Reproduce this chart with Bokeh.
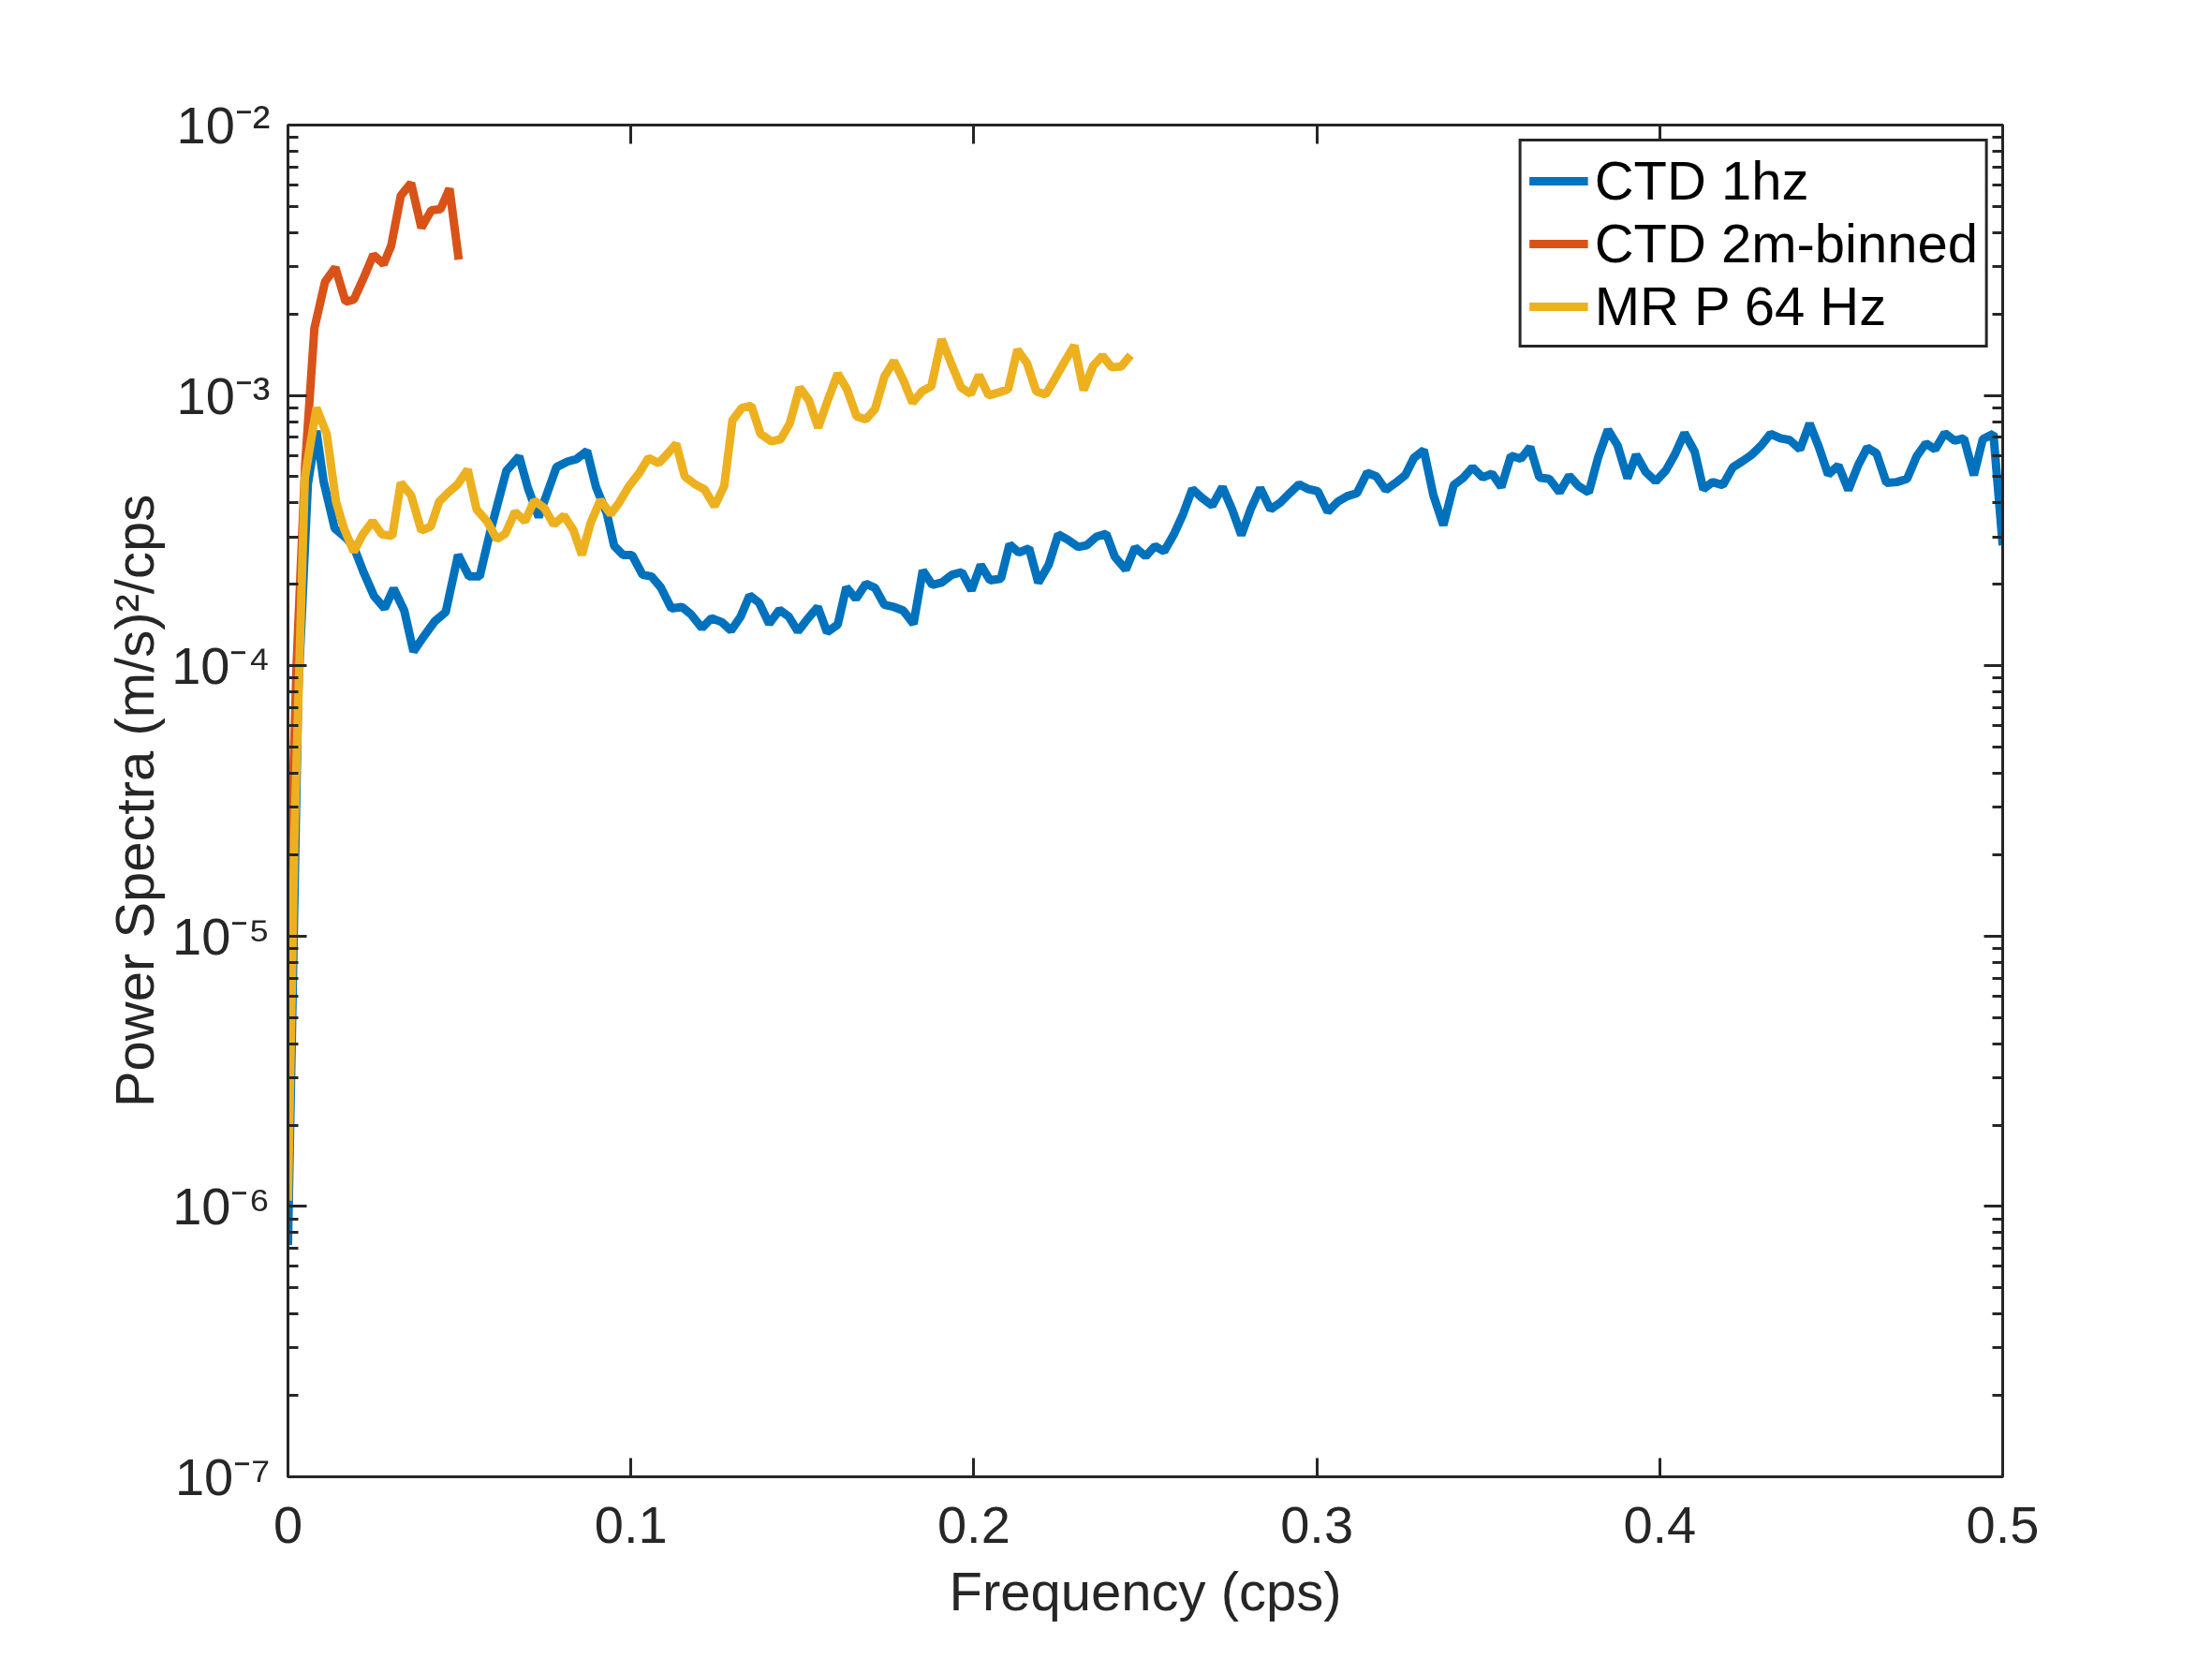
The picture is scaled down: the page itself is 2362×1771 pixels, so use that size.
from bokeh.plotting import figure
from bokeh.models import Range1d, FixedTicker, CustomJSTickFormatter, LinearAxis, LogAxis
from bokeh.embed import file_html
from bokeh.resources import INLINE

# ---------------- data ----------------
ctd1hz_f = [
    0.0000, 0.0030, 0.0058, 0.0083, 0.0104, 0.0136, 0.0172, 0.0193, 0.0219, 0.0251,
    0.0282, 0.0308, 0.0339, 0.0366, 0.0397, 0.0428, 0.0460, 0.0496, 0.0528, 0.0559,
    0.0590, 0.0637, 0.0674, 0.0700, 0.0731, 0.0757, 0.0783, 0.0815, 0.0841, 0.0872,
    0.0898, 0.0930, 0.0951, 0.0977, 0.1003, 0.1034, 0.1060, 0.1087, 0.1118, 0.1149,
    0.1175, 0.1207, 0.1235, 0.1265, 0.1292, 0.1320, 0.1346, 0.1374, 0.1403, 0.1433,
    0.1460, 0.1487, 0.1515, 0.1545, 0.1572, 0.1603, 0.1628, 0.1656, 0.1685, 0.1712,
    0.1739, 0.1767, 0.1794, 0.1824, 0.1851, 0.1879, 0.1906, 0.1936, 0.1965, 0.1993,
    0.2020, 0.2047, 0.2079, 0.2104, 0.2131, 0.2161, 0.2188, 0.2218, 0.2246, 0.2275,
    0.2304, 0.2329, 0.2357, 0.2386, 0.2411, 0.2443, 0.2470, 0.2501, 0.2528, 0.2555,
    0.2583, 0.2610, 0.2637, 0.2664, 0.2695, 0.2725, 0.2753, 0.2780, 0.2807, 0.2835,
    0.2865, 0.2894, 0.2921, 0.2948, 0.2976, 0.3003, 0.3032, 0.3062, 0.3089, 0.3117,
    0.3147, 0.3174, 0.3201, 0.3230, 0.3258, 0.3283, 0.3312, 0.3340, 0.3369, 0.3399,
    0.3426, 0.3454, 0.3484, 0.3511, 0.3538, 0.3566, 0.3595, 0.3622, 0.3649, 0.3678,
    0.3708, 0.3736, 0.3763, 0.3793, 0.3820, 0.3849, 0.3877, 0.3906, 0.3931, 0.3959,
    0.3988, 0.4018, 0.4045, 0.4072, 0.4102, 0.4127, 0.4154, 0.4184, 0.4213, 0.4241,
    0.4268, 0.4296, 0.4323, 0.4352, 0.4379, 0.4409, 0.4437, 0.4464, 0.4491, 0.4521,
    0.4550, 0.4578, 0.4605, 0.4632, 0.4661, 0.4691, 0.4721, 0.4749, 0.4776, 0.4803,
    0.4831, 0.4860, 0.4887, 0.4916, 0.4942, 0.4973, 0.5000,
]
ctd1hz_p = [
    7.2e-7, 8.0e-5, 4.7e-4, 7.4e-4, 4.8e-4, 3.23e-4, 2.95e-4, 2.73e-4, 2.24e-4, 1.81e-4,
    1.63e-4, 1.93e-4, 1.60e-4, 1.13e-4, 1.29e-4, 1.46e-4, 1.58e-4, 2.57e-4, 2.14e-4, 2.14e-4,
    3.14e-4, 5.27e-4, 5.95e-4, 4.53e-4, 3.55e-4, 4.39e-4, 5.43e-4, 5.69e-4, 5.81e-4, 6.23e-4,
    4.59e-4, 3.65e-4, 2.78e-4, 2.57e-4, 2.57e-4, 2.17e-4, 2.14e-4, 1.95e-4, 1.63e-4, 1.65e-4,
    1.55e-4, 1.38e-4, 1.50e-4, 1.45e-4, 1.35e-4, 1.52e-4, 1.82e-4, 1.71e-4, 1.43e-4, 1.61e-4,
    1.52e-4, 1.34e-4, 1.49e-4, 1.65e-4, 1.33e-4, 1.42e-4, 1.95e-4, 1.77e-4, 2.01e-4, 1.94e-4,
    1.68e-4, 1.65e-4, 1.60e-4, 1.43e-4, 2.25e-4, 1.99e-4, 2.03e-4, 2.17e-4, 2.22e-4, 1.90e-4,
    2.36e-4, 2.07e-4, 2.10e-4, 2.81e-4, 2.62e-4, 2.72e-4, 2.03e-4, 2.36e-4, 3.06e-4, 2.92e-4,
    2.75e-4, 2.79e-4, 3.00e-4, 3.08e-4, 2.53e-4, 2.27e-4, 2.74e-4, 2.54e-4, 2.77e-4, 2.65e-4,
    3.06e-4, 3.64e-4, 4.50e-4, 4.19e-4, 3.91e-4, 4.58e-4, 3.79e-4, 3.04e-4, 3.79e-4, 4.54e-4,
    3.79e-4, 4.02e-4, 4.35e-4, 4.69e-4, 4.50e-4, 4.42e-4, 3.71e-4, 4.05e-4, 4.24e-4, 4.35e-4,
    5.18e-4, 5.01e-4, 4.47e-4, 4.75e-4, 5.07e-4, 5.87e-4, 6.28e-4, 4.27e-4, 3.31e-4, 4.66e-4,
    4.94e-4, 5.42e-4, 4.97e-4, 5.14e-4, 4.58e-4, 5.98e-4, 5.83e-4, 6.44e-4, 4.97e-4, 4.91e-4,
    4.38e-4, 5.05e-4, 4.62e-4, 4.38e-4, 5.87e-4, 7.46e-4, 6.53e-4, 4.94e-4, 6.03e-4, 5.21e-4,
    4.81e-4, 5.28e-4, 6.08e-4, 7.26e-4, 6.19e-4, 4.50e-4, 4.78e-4, 4.66e-4, 5.42e-4, 5.71e-4,
    6.03e-4, 6.53e-4, 7.21e-4, 6.94e-4, 6.84e-4, 6.31e-4, 7.87e-4, 6.44e-4, 5.10e-4, 5.50e-4,
    4.47e-4, 5.50e-4, 6.41e-4, 6.11e-4, 4.75e-4, 4.78e-4, 4.91e-4, 5.95e-4, 6.65e-4, 6.31e-4,
    7.26e-4, 6.80e-4, 6.94e-4, 5.07e-4, 6.89e-4, 7.21e-4, 2.79e-4,
]

binned_f = [
    0.0000, 0.0025, 0.0050, 0.0077, 0.0108, 0.0138, 0.0168, 0.0192, 0.0220, 0.0249,
    0.0279, 0.0301, 0.0329, 0.0359, 0.0389, 0.0418, 0.0445, 0.0471, 0.0498,
]
binned_p = [
    8.4e-6, 1.0e-4, 5.5e-4, 1.77e-3, 2.63e-3, 2.97e-3, 2.22e-3, 2.26e-3, 2.71e-3, 3.31e-3,
    3.06e-3, 3.58e-3, 5.48e-3, 6.10e-3, 4.17e-3, 4.84e-3, 4.89e-3, 5.82e-3, 3.18e-3,
]

mrp_f = [
    0.0000, 0.0019, 0.0049, 0.0083, 0.0113, 0.0140, 0.0163, 0.0192, 0.0218, 0.0247,
    0.0274, 0.0304, 0.0329, 0.0359, 0.0389, 0.0416, 0.0441, 0.0468, 0.0495, 0.0524,
    0.0550, 0.0582, 0.0609, 0.0634, 0.0662, 0.0691, 0.0718, 0.0747, 0.0775, 0.0805,
    0.0832, 0.0857, 0.0882, 0.0911, 0.0941, 0.0966, 0.0993, 0.1023, 0.1051, 0.1081,
    0.1108, 0.1132, 0.1157, 0.1187, 0.1214, 0.1244, 0.1272, 0.1296, 0.1324, 0.1351,
    0.1378, 0.1410, 0.1437, 0.1463, 0.1492, 0.1519, 0.1546, 0.1574, 0.1603, 0.1630,
    0.1658, 0.1685, 0.1712, 0.1739, 0.1767, 0.1794, 0.1821, 0.1849, 0.1876, 0.1906,
    0.1933, 0.1963, 0.1991, 0.2015, 0.2043, 0.2073, 0.2100, 0.2127, 0.2155, 0.2182,
    0.2209, 0.2236, 0.2264, 0.2293, 0.2320, 0.2348, 0.2375, 0.2402, 0.2430, 0.2457,
]
mrp_p = [
    1.05e-6, 2.4e-5, 4.94e-4, 9.0e-4, 7.2e-4, 4.05e-4, 3.23e-4, 2.64e-4, 3.06e-4, 3.42e-4,
    3.06e-4, 3.02e-4, 4.75e-4, 4.27e-4, 3.16e-4, 3.27e-4, 4.05e-4, 4.38e-4, 4.69e-4, 5.32e-4,
    3.79e-4, 3.40e-4, 2.94e-4, 3.08e-4, 3.71e-4, 3.42e-4, 4.08e-4, 3.84e-4, 3.33e-4, 3.59e-4,
    3.18e-4, 2.57e-4, 3.36e-4, 4.10e-4, 3.64e-4, 4.02e-4, 4.59e-4, 5.14e-4, 5.87e-4, 5.61e-4,
    6.11e-4, 6.62e-4, 5.01e-4, 4.69e-4, 4.50e-4, 3.89e-4, 4.62e-4, 8.08e-4, 9.0e-4, 9.16e-4,
    7.2e-4, 6.76e-4, 6.89e-4, 7.87e-4, 1.069e-3, 9.6e-4, 7.6e-4, 9.6e-4, 1.204e-3, 1.054e-3,
    8.36e-4, 8.15e-4, 8.91e-4, 1.172e-3, 1.34e-3, 1.142e-3, 9.4e-4, 1.035e-3, 1.082e-3, 1.613e-3,
    1.321e-3, 1.069e-3, 1.013e-3, 1.188e-3, 1.0e-3, 1.026e-3, 1.054e-3, 1.477e-3, 1.315e-3, 1.035e-3,
    1.007e-3, 1.15e-3, 1.328e-3, 1.53e-3, 1.046e-3, 1.287e-3, 1.401e-3, 1.27e-3, 1.28e-3, 1.41e-3,
]

series_names = ["CTD 1hz", "CTD 2m-binned", "MR P 64 Hz"]
series_colors = ["#0072BD", "#D95319", "#EDB120"]

x_ticks = [0, 0.1, 0.2, 0.3, 0.4, 0.5]
y_ticks = [1e-7, 1e-6, 1e-5, 1e-4, 1e-3, 1e-2]
y_minor = [m * t for t in y_ticks[:-1] for m in range(2, 10)]

x_title = "Frequency (cps)"
y_title = "Power Spectra (m/s)\u00b2/cps"

assert len(ctd1hz_f) == len(ctd1hz_p)
assert len(binned_f) == len(binned_p)
assert len(mrp_f) == len(mrp_p)

# ---------------- figure ----------------
FONT = "Liberation Sans"
AX = "#262626"

p = figure(width=2346, height=1755,
           x_range=Range1d(0, 0.5), y_range=Range1d(1e-7, 1e-2),
           y_axis_type="log", output_backend="svg", toolbar_location=None,
           min_border_left=307, min_border_right=208,
           min_border_top=133, min_border_bottom=179)
p.background_fill_color = "white"
p.border_fill_color = "white"
p.outline_line_color = AX
p.outline_line_width = 3
p.grid.visible = False

LW = 9
p.line(ctd1hz_f, ctd1hz_p, color=series_colors[0], line_width=LW, legend_label=series_names[0])
p.line(binned_f, binned_p, color=series_colors[1], line_width=LW, legend_label=series_names[1])
p.line(mrp_f, mrp_p, color=series_colors[2], line_width=LW, legend_label=series_names[2])

x_fmt = CustomJSTickFormatter(code="return tick == 0 ? '0' : tick.toFixed(1);")
y_fmt = CustomJSTickFormatter(code=r"""
const sup = {'-':'\u207b','0':'\u2070','1':'\u00b9','2':'\u00b2','3':'\u00b3','4':'\u2074',
             '5':'\u2075','6':'\u2076','7':'\u2077','8':'\u2078','9':'\u2079'};
const e = Math.round(Math.log10(tick)).toString();
let s = '';
for (const c of e) { s += sup[c]; }
return '10' + s;
""")


def style_axis(ax, minor):
    ax.axis_line_color = AX
    ax.axis_line_width = 3
    ax.major_tick_line_color = AX
    ax.major_tick_line_width = 3
    ax.major_tick_in = 20
    ax.major_tick_out = 0
    if minor:
        ax.minor_tick_line_color = AX
        ax.minor_tick_line_width = 3
        ax.minor_tick_in = 11
        ax.minor_tick_out = 0
    else:
        ax.minor_tick_line_color = None
    ax.major_label_text_font = FONT
    ax.major_label_text_font_size = "56px"
    ax.major_label_text_color = AX
    ax.axis_label_text_font = FONT
    ax.axis_label_text_font_size = "58px"
    ax.axis_label_text_font_style = "normal"
    ax.axis_label_text_color = AX


xa = p.xaxis[0]
xa.ticker = FixedTicker(ticks=x_ticks)
xa.formatter = x_fmt
style_axis(xa, False)
xa.axis_label = x_title
xa.major_label_standoff = 32
xa.axis_label_standoff = 16

ya = p.yaxis[0]
ya.ticker = FixedTicker(ticks=y_ticks, minor_ticks=y_minor)
ya.formatter = y_fmt
style_axis(ya, True)
ya.axis_label = y_title
ya.major_label_standoff = 19
ya.axis_label_standoff = 4

# mirrored tick marks on the top and right edges (no labels drawn)
top = LinearAxis(ticker=FixedTicker(ticks=x_ticks), formatter=x_fmt)
style_axis(top, False)
top.major_label_text_color = None
top.major_label_standoff = 0
p.add_layout(top, "above")

right = LogAxis(ticker=FixedTicker(ticks=y_ticks, minor_ticks=y_minor), formatter=y_fmt)
style_axis(right, True)
right.major_label_text_color = None
right.major_label_standoff = 0
p.add_layout(right, "right")

lg = p.legend[0]
lg.location = "top_right"
lg.margin = 15
lg.padding = 8
lg.spacing = 0
lg.label_text_font = FONT
lg.label_text_font_size = "58px"
lg.label_text_color = "black"
lg.label_height = 66
lg.glyph_height = 66
lg.glyph_width = 63
lg.label_standoff = 7
lg.border_line_color = AX
lg.border_line_alpha = 1.0
lg.border_line_width = 3
lg.background_fill_color = "white"
lg.background_fill_alpha = 1.0

open("out.html", "w").write(file_html(p, INLINE))
